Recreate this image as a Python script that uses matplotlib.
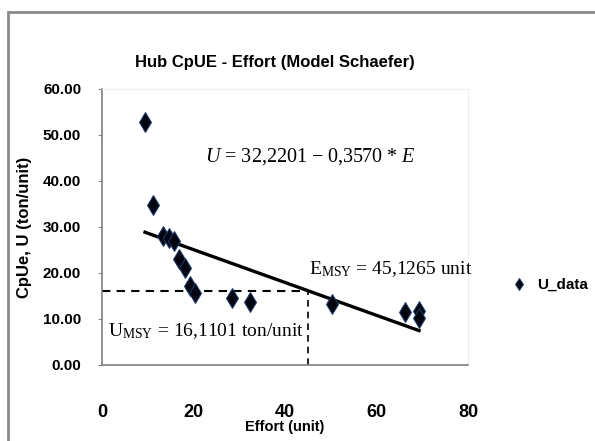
import matplotlib
matplotlib.use("Agg")
import matplotlib.pyplot as plt
from matplotlib.patches import Rectangle

# --- data ---
effort = [9.4, 11.2, 13.4, 14.6, 15.8, 16.9, 18.2, 19.3, 20.4, 28.4, 32.3, 50.3, 66.2, 69.3, 69.3]
cpue = [52.9, 34.8, 28.0, 27.6, 27.0, 23.0, 21.0, 17.2, 15.7, 14.6, 13.8, 13.2, 11.6, 11.7, 10.3]

intercept = 32.2201
slope = -0.3570
e_msy = 45.1265
u_msy = 16.1101

x_ticks = [0, 20, 40, 60, 80]
y_ticks = [0, 10, 20, 30, 40, 50, 60]

sans = ["Liberation Sans", "DejaVu Sans"]
serif = ["Liberation Serif", "DejaVu Serif"]
plt.rcParams["mathtext.fontset"] = "custom"
plt.rcParams["mathtext.rm"] = "Liberation Serif"
plt.rcParams["mathtext.it"] = "Liberation Serif:italic"

fig = plt.figure(figsize=(5.95, 4.41), dpi=100)
W, H = 595, 441
ax = fig.add_axes([102 / W, 1 - 365 / H, (468 - 102) / W, (365 - 89) / H])

# frame round the whole chart
fig.patches.append(Rectangle((8 / W, -0.2), 1.5, 1.2 - 12 / H, transform=fig.transFigure,
                             fill=False, ec="#8a8a8a", lw=2))

# data points
ax.plot(effort, cpue, ls="none", marker="d", ms=10, mfc="#050510", mec="#1c3a6e",
        mew=0.7, label="U_data", zorder=3)

# regression line over the data range
x0, x1 = min(effort), max(effort)
ax.plot([x0, x1], [intercept + slope * x0, intercept + slope * x1],
        color="black", lw=2.4, zorder=2)

# MSY guides
ax.plot([0, e_msy], [u_msy, u_msy], color="black", ls=(0, (4, 3)), lw=1.5)
ax.plot([e_msy, e_msy], [0, u_msy], color="black", ls=(0, (4, 3)), lw=1.2)

ax.set_xlim(0, 80)
ax.set_ylim(0, 60)
ax.set_xticks(x_ticks)
ax.set_yticks(y_ticks)
ax.set_xticklabels([str(v) for v in x_ticks], family=sans, weight="bold", fontsize=13)
ax.set_yticklabels([f"{v:.2f}" for v in y_ticks], family=sans, weight="bold", fontsize=11)
ax.tick_params(axis="x", length=0, pad=28)
ax.tick_params(axis="y", length=3, pad=12, color="#888888")

for side in ["left", "bottom"]:
    ax.spines[side].set_color("#808080")
    ax.spines[side].set_linewidth(1.2)
for side in ["top", "right"]:
    ax.spines[side].set_color("#eeeeee")

ax.set_xlabel("Effort (unit)", family=sans, weight="bold", fontsize=10.5)
ax.xaxis.set_label_coords(0.5, -0.2)
ax.set_ylabel("CpUe, U (ton/unit)", family=sans, weight="bold", fontsize=12)
ax.yaxis.set_label_coords(-0.19, 0.5)

fig.text(275 / W, 1 - 62 / H, "Hub CpUE - Effort (Model Schaefer)", ha="center", va="center",
         family=sans, weight="bold", fontsize=12)

ax.text(22.6, 45.4, r"$U$ = 32,2201 $-$ 0,3570 * $E$", family=serif, fontsize=14.5,
        va="center", ha="left")
ax.text(45.2, 20.9, r"E$_{\mathrm{MSY}}$ = 45,1265 unit", family=serif, fontsize=14,
        va="center", ha="left")
ax.text(1.3, 7.4, r"U$_{\mathrm{MSY}}$ = 16,1101 ton/unit", family=serif, fontsize=14,
        va="center", ha="left")

fig.legend(loc="center left", bbox_to_anchor=(496 / W, 1 - 285 / H), frameon=False,
           handlelength=1.2, handletextpad=0.6, markerscale=0.6,
           prop={"family": sans, "weight": "bold", "size": 11})

fig.savefig("out.png", dpi=100)
